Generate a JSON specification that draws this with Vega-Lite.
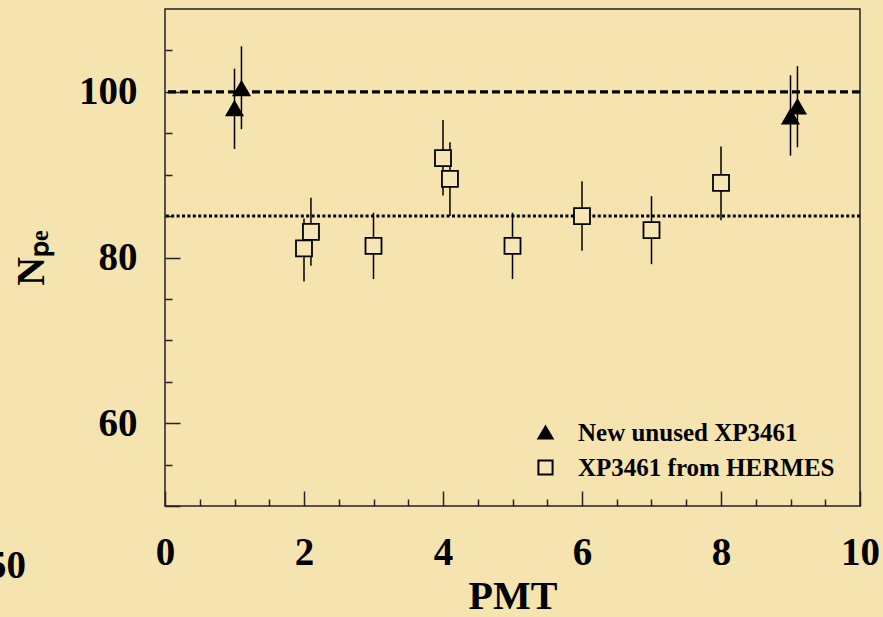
{
  "$schema": "https://vega.github.io/schema/vega-lite/v6.json",
  "width": 695,
  "height": 497,
  "autosize": {"type": "none"},
  "padding": {"left": 165, "top": 9, "right": 23, "bottom": 111},
  "background": "#F5E4B0",
  "config": {
    "view": {"stroke": "#222", "strokeWidth": 1.5},
    "font": "Liberation Serif",
    "axis": {
      "labelFont": "Liberation Serif", "labelFontWeight": "bold", "labelFontSize": 39, "labelColor": "black",
      "titleFont": "Liberation Serif", "titleFontWeight": "bold", "titleFontSize": 40, "titleColor": "black",
      "tickColor": "#222", "tickWidth": 1.5, "domain": false, "grid": false
    },
    "legend": {
      "labelFont": "Liberation Serif", "labelFontWeight": "bold", "labelFontSize": 25, "labelColor": "black", "labelLimit": 500,
      "rowPadding": 9, "labelOffset": 20, "padding": 0, "symbolStrokeWidth": 2, "symbolSize": 200
    }
  },
  "datasets": {
    "pts": [
      {"series": "New unused XP3461", "pmt": 1.0, "npe": 98.0, "lo": 93.1, "hi": 102.8},
      {"series": "New unused XP3461", "pmt": 1.1, "npe": 100.4, "lo": 95.5, "hi": 105.5},
      {"series": "New unused XP3461", "pmt": 9.0, "npe": 97.0, "lo": 92.3, "hi": 102.0},
      {"series": "New unused XP3461", "pmt": 9.1, "npe": 98.2, "lo": 93.3, "hi": 103.1},
      {"series": "XP3461 from HERMES", "pmt": 2.0, "npe": 81.1, "lo": 77.1, "hi": 84.7},
      {"series": "XP3461 from HERMES", "pmt": 2.1, "npe": 83.1, "lo": 79.0, "hi": 87.2},
      {"series": "XP3461 from HERMES", "pmt": 3.0, "npe": 81.4, "lo": 77.4, "hi": 85.4},
      {"series": "XP3461 from HERMES", "pmt": 4.0, "npe": 92.0, "lo": 87.5, "hi": 96.6},
      {"series": "XP3461 from HERMES", "pmt": 4.1, "npe": 89.5, "lo": 85.0, "hi": 93.9},
      {"series": "XP3461 from HERMES", "pmt": 5.0, "npe": 81.4, "lo": 77.4, "hi": 85.4},
      {"series": "XP3461 from HERMES", "pmt": 6.0, "npe": 85.0, "lo": 80.8, "hi": 89.2},
      {"series": "XP3461 from HERMES", "pmt": 7.0, "npe": 83.3, "lo": 79.2, "hi": 87.4},
      {"series": "XP3461 from HERMES", "pmt": 8.0, "npe": 89.0, "lo": 84.5, "hi": 93.4}
    ],
    "dashed": [{"level": 100}],
    "dotted": [{"level": 85}],
    "stray": [{"label": "50", "px": -2.0, "py": 42.7}]
  },
  "resolve": {"axis": {"x": "independent", "y": "independent"}},
  "layer": [
    {
      "data": {"name": "dashed"},
      "mark": {"type": "rule", "color": "black", "strokeWidth": 3.3, "strokeDash": [8, 4]},
      "encoding": {"y": {"field": "level", "type": "quantitative", "scale": {"domain": [50, 110], "nice": false, "zero": false}, "axis": null}}
    },
    {
      "data": {"name": "dotted"},
      "mark": {"type": "rule", "color": "black", "strokeWidth": 3, "strokeDash": [3, 2.4]},
      "encoding": {"y": {"field": "level", "type": "quantitative", "axis": null}}
    },
    {
      "data": {"name": "pts"},
      "mark": {"type": "rule", "color": "black", "strokeWidth": 1.5},
      "encoding": {
        "x": {"field": "pmt", "type": "quantitative", "scale": {"domain": [0, 10], "nice": false, "zero": false},
          "axis": {"orient": "bottom", "values": [0, 2, 4, 6, 8, 10], "tickSize": -15, "labelPadding": 42, "title": "PMT", "format": "d", "labelFlush": false}},
        "y": {"field": "lo", "type": "quantitative",
          "axis": {"orient": "left", "values": [50, 60, 80, 100], "tickSize": -15, "labelPadding": 43, "title": "Nₚₑ", "titlePadding": 27, "format": "d", "labelExpr": "datum.value == 50 ? '' : datum.label"}},
        "y2": {"field": "hi"}
      }
    },
    {
      "data": {"name": "pts"},
      "mark": {"type": "point", "filled": false, "strokeWidth": 1.8, "size": 256, "opacity": 1},
      "encoding": {
        "x": {"field": "pmt", "type": "quantitative",
          "axis": {"orient": "bottom", "values": [0.5, 1, 1.5, 2.5, 3, 3.5, 4.5, 5, 5.5, 6.5, 7, 7.5, 8.5, 9, 9.5], "tickSize": -7, "labels": false, "title": null}},
        "y": {"field": "npe", "type": "quantitative",
          "axis": {"orient": "left", "values": [55, 65, 70, 75, 85, 90, 95, 105], "tickSize": -7, "labels": false, "title": null}},
        "shape": {"field": "series", "type": "nominal", "scale": {"domain": ["New unused XP3461", "XP3461 from HERMES"], "range": ["triangle-up", "square"]},
          "legend": {"title": null, "orient": "bottom-right", "offset": 25}},
        "fill": {"field": "series", "type": "nominal", "scale": {"domain": ["New unused XP3461", "XP3461 from HERMES"], "range": ["black", "#F6E6B6"]},
          "legend": {"title": null, "orient": "bottom-right", "offset": 25}},
        "stroke": {"field": "series", "type": "nominal", "scale": {"domain": ["New unused XP3461", "XP3461 from HERMES"], "range": ["black", "black"]},
          "legend": {"title": null, "orient": "bottom-right", "offset": 25}}
      }
    },
    {
      "data": {"name": "stray"},
      "mark": {"type": "text", "align": "right", "baseline": "middle", "font": "Liberation Serif", "fontWeight": "bold", "fontSize": 39, "color": "black"},
      "encoding": {
        "x": {"field": "px", "type": "quantitative", "axis": null},
        "y": {"field": "py", "type": "quantitative", "axis": null},
        "text": {"field": "label"}
      }
    }
  ]
}
